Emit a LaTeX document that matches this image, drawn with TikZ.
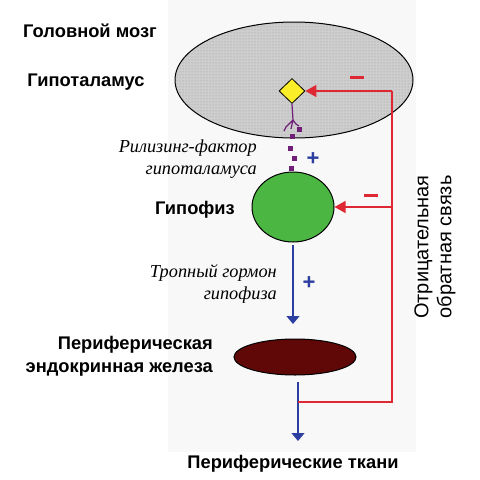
\documentclass[tikz,border=0pt]{standalone}
\usepackage{fontspec}
\setmainfont{Liberation Serif}
\setsansfont{Liberation Sans}
\usetikzlibrary{arrows.meta,shapes.geometric,patterns}
\definecolor{panel}{RGB}{248,248,248}
\definecolor{brain}{RGB}{206,206,206}
\definecolor{braindot}{RGB}{150,150,150}
\definecolor{fbred}{RGB}{222,40,52}
\definecolor{hblue}{RGB}{44,62,160}
\definecolor{pgreen}{RGB}{76,182,66}
\definecolor{gland}{RGB}{96,8,8}
\definecolor{hyel}{RGB}{250,238,40}
\definecolor{rfpurple}{RGB}{112,30,120}
\tikzset{
  lbl/.style={font=\sffamily\bfseries\fontsize{18.3}{23}\selectfont, inner sep=0pt},
  ital/.style={font=\itshape\fontsize{18.3}{22}\selectfont, inner sep=0pt, align=right, anchor=east},
  organ/.style={ellipse, draw=black, line width=1pt, inner sep=0pt},
  fb/.style={draw=fbred, line width=1.1pt},
  fbarrow/.style={fb, -{Triangle[width=12pt,length=11pt]}},
  harrow/.style={draw=hblue, line width=1.1pt, -{Triangle[width=13pt,length=8pt]}},
  minus/.style={fill=fbred, minimum width=14pt, minimum height=3pt, inner sep=0pt},
  plus/.style={text=hblue, font=\sffamily\bfseries\fontsize{22}{22}\selectfont, inner sep=0pt},
  rfdot/.style={fill=rfpurple, minimum size=5pt, inner sep=0pt},
}
\begin{document}
\begin{tikzpicture}[x=1pt,y=-1pt]
\useasboundingbox (0,0) rectangle (480,480);
\fill[white] (0,0) rectangle (480,480);
\fill[panel] (168,0) rectangle (416,452);

% organs
\node[organ, preaction={fill=brain}, pattern=dots, pattern color=braindot, minimum width=238pt, minimum height=116pt] (brain) at (294,80) {};
\node[diamond, draw=black, fill=hyel, line width=0.8pt, minimum width=26pt, minimum height=25pt, inner sep=0pt] (hyp) at (292,91) {};
\node[organ, fill=pgreen, minimum width=82pt, minimum height=70pt] (pit) at (293,207) {};
\node[organ, fill=gland, minimum width=122pt, minimum height=36pt] (gl) at (295,357) {};

% releasing factor dendrite
\coordinate (d1) at (293,120);
\draw[rfpurple, line width=1.2pt] (hyp.south) -- (d1)
  (d1) -- (286,127) -- (284,131)
  (d1) -- (291,129)
  (d1) -- (296,124) -- (299,126);
\node[rfdot] (r1) at (299,129) {};
\node[rfdot] (r2) at (292,136) {};
\node[rfdot] (r3) at (290,148) {};
\node[rfdot] (r4) at (294,158) {};
\node[rfdot] (r5) at (291,168) {};
\node[plus] (p1) at (313,159) {+};

% labels left
\node[lbl] (t1) at (90,31) {Головной мозг};
\node[lbl] (t2) at (86,82) {Гипоталамус};
\node[ital] (rf) at (257,159) {Рилизинг-фактор\\гипоталамуса};
\node[lbl, anchor=east] (t3) at (235,210) {Гипофиз};
\node[ital] (tg) at (277,284) {Тропный гормон\\гипофиза};
\node[lbl, align=right, anchor=east] (t4) at (213,356) {Периферическая\\эндокринная железа};
\node[lbl] (t5) at (293,464) {Периферические ткани};
\node[lbl, font=\sffamily\fontsize{20}{23}\selectfont, align=center, rotate=90] (fbt) at (435,247) {Отрицательная\\обратная связь};

% hormone arrows
\coordinate (a1) at (293,245);
\coordinate (a1e) at (293,324);
\draw[harrow] (a1) -- (a1e);
\node[plus] (p2) at (309,283) {+};
\coordinate (b0) at (298,382);
\coordinate (tis) at (298,441);
\draw[harrow] (b0) -- (tis);

% feedback
\coordinate (f0) at (298,402);
\coordinate (f1) at (392,402);
\coordinate (f2) at (392,91);
\coordinate (f3) at (392,207);
\draw[fb] (f0) -- (f1) -- (f2);
\draw[fbarrow] (f2) -- (hyp.east);
\draw[fbarrow] (f3) -- (pit.east);
\node[minus] (m1) at (357,77) {};
\node[minus] (m2) at (371,195) {};
\end{tikzpicture}
\end{document}
